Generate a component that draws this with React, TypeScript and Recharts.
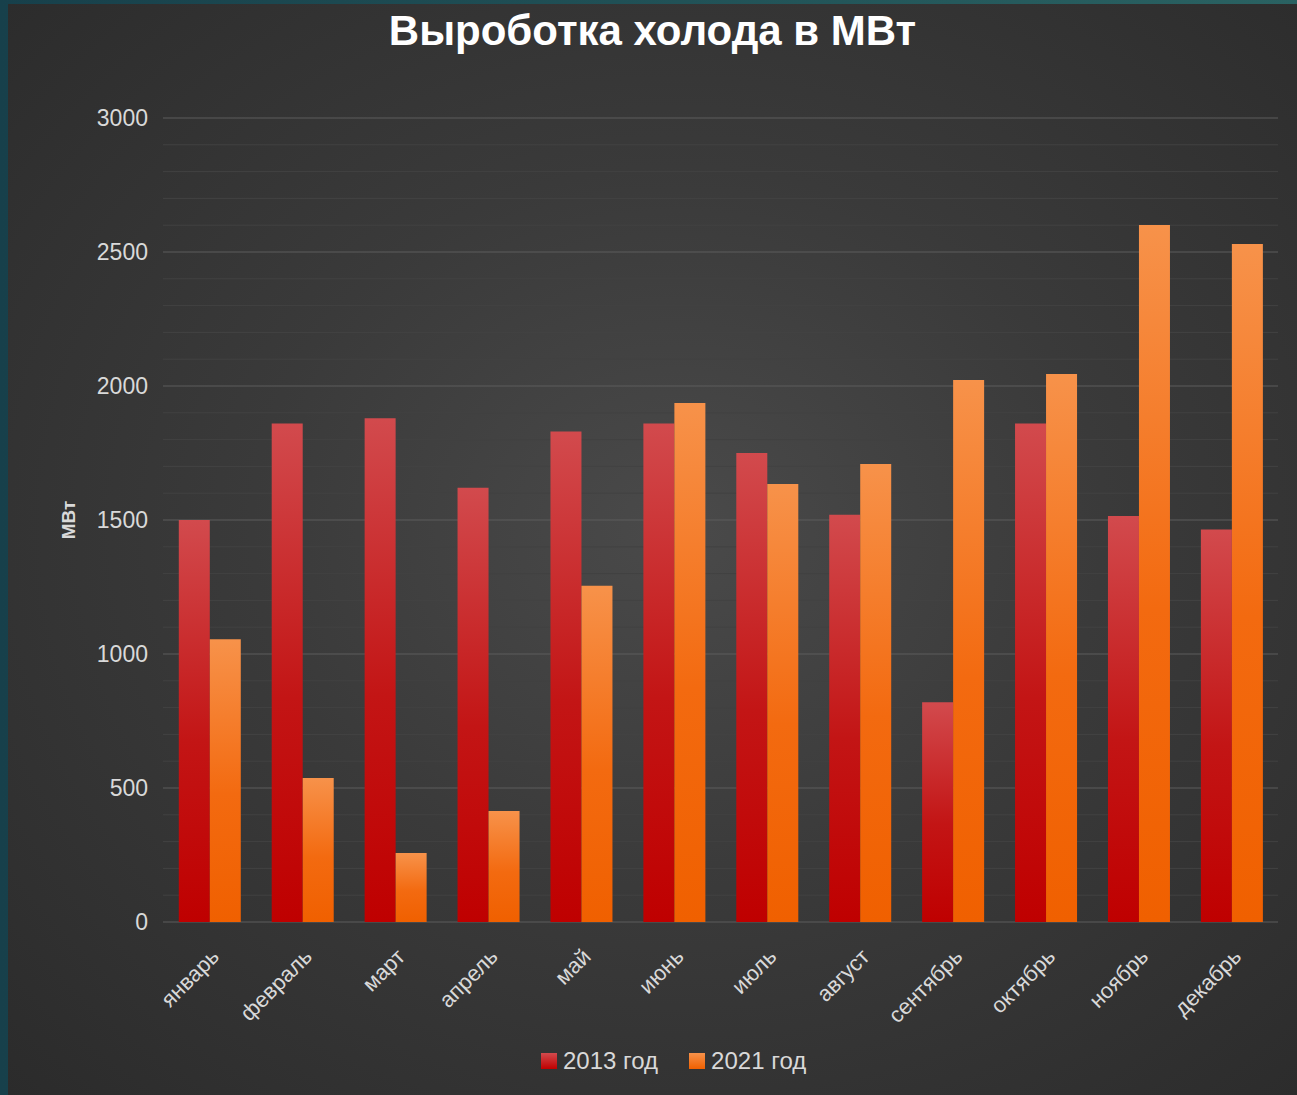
import { BarChart, Bar, XAxis, YAxis, CartesianGrid, Legend, Label } from "recharts";

const months = ["январь", "февраль", "март", "апрель", "май", "июнь", "июль", "август", "сентябрь", "октябрь", "ноябрь", "декабрь"];
const year2013 = [1500, 1860, 1880, 1620, 1830, 1860, 1750, 1520, 820, 1860, 1515, 1465];
const year2021 = [1055, 537, 257, 414, 1255, 1937, 1634, 1709, 2022, 2045, 2601, 2530];
const majorTicks = [0, 500, 1000, 1500, 2000, 2500, 3000];
const minorTicks = Array.from({ length: 31 }, (_, i) => i * 100).filter((v) => v % 500 !== 0);

const data = months.map((m, i) => ({ month: m, "2013 год": year2013[i], "2021 год": year2021[i] }));

const FONT = '"Liberation Sans", Arial, sans-serif';
const TEXT = "#d9d9d9";

const gridGen = (values: number[]) => (props: any) => {
  const { yAxis, offset } = props;
  if (yAxis && typeof yAxis.scale === "function") return values.map((v) => yAxis.scale(v));
  return values.map((v) => offset.top + offset.height * (1 - v / 3000));
};

const MonthTick = ({ x, y, payload }: any) => (
  <g transform={`translate(${x + 11},${y + 28})`}>
    <text textAnchor="end" transform="rotate(-45)" fill={TEXT} fontSize={22} fontFamily={FONT}>
      {payload.value}
    </text>
  </g>
);

const LegendContent = () => (
  <div style={{ display: "flex", alignItems: "center", fontFamily: FONT, fontSize: 24, color: TEXT }}>
    <span style={{ width: 16, height: 16, background: "linear-gradient(#d24a4d, #c00000)", marginRight: 6 }} />
    <span style={{ marginRight: 31 }}>2013 год</span>
    <span style={{ width: 16, height: 16, background: "linear-gradient(#f7924a, #f06000)", marginRight: 6 }} />
    <span>2021 год</span>
  </div>
);

export default function App() {
  return (
    <div style={{ position: "absolute", left: 0, top: 0, width: 1297, height: 1095, background: "linear-gradient(90deg, #17404b, #2a6262)" }}>
      <div
        style={{
          position: "absolute",
          left: 8,
          top: 4,
          width: 1289,
          height: 1091,
          background: "radial-gradient(ellipse at 52% 48%, #4a4a4a 0%, #3a3a3a 45%, #2b2b2b 100%)",
        }}
      >
        <div
          style={{
            position: "absolute",
            top: 6,
            left: 0,
            width: 1289,
            textAlign: "center",
            fontFamily: FONT,
            fontWeight: "bold",
            fontSize: 42,
            lineHeight: "42px",
            color: "#ffffff",
          }}
        >
          Выроботка холода в МВт
        </div>
        <BarChart
          width={1289}
          height={1091}
          data={data}
          margin={{ top: 114, right: 19, left: 0, bottom: 0 }}
          barCategoryGap="17%"
          barGap={0}
        >
          <defs>
            <linearGradient id="gRed" x1="0" y1="0" x2="0" y2="1">
              <stop offset="0%" stopColor="#d24a4d" />
              <stop offset="55%" stopColor="#c31515" />
              <stop offset="100%" stopColor="#bf0000" />
            </linearGradient>
            <linearGradient id="gOrange" x1="0" y1="0" x2="0" y2="1">
              <stop offset="0%" stopColor="#f7924a" />
              <stop offset="55%" stopColor="#f36a10" />
              <stop offset="100%" stopColor="#f06000" />
            </linearGradient>
          </defs>
          <CartesianGrid vertical={false} stroke="#424242" horizontalCoordinatesGenerator={gridGen(minorTicks)} />
          <CartesianGrid vertical={false} stroke="#5c5c5c" horizontalCoordinatesGenerator={gridGen(majorTicks)} />
          <XAxis
            dataKey="month"
            height={173}
            axisLine={false}
            tickLine={false}
            interval={0}
            tick={<MonthTick />}
          />
          <YAxis
            width={155}
            domain={[0, 3000]}
            ticks={majorTicks}
            axisLine={false}
            tickLine={false}
            tickMargin={9}
            tick={{ fill: TEXT, fontSize: 23, fontFamily: FONT }}
          >
            <Label
              value="МВт"
              angle={-90}
              position="center"
              dx={-17}
              fill={TEXT}
              fontSize={19}
              fontWeight="bold"
              fontFamily={FONT}
            />
          </YAxis>
          <Legend
            verticalAlign="middle"
            content={<LegendContent />}
            wrapperStyle={{ top: 1043, left: 533, width: 320 }}
          />
          <Bar dataKey="2013 год" fill="url(#gRed)" isAnimationActive={false} />
          <Bar dataKey="2021 год" fill="url(#gOrange)" isAnimationActive={false} />
        </BarChart>
      </div>
    </div>
  );
}
